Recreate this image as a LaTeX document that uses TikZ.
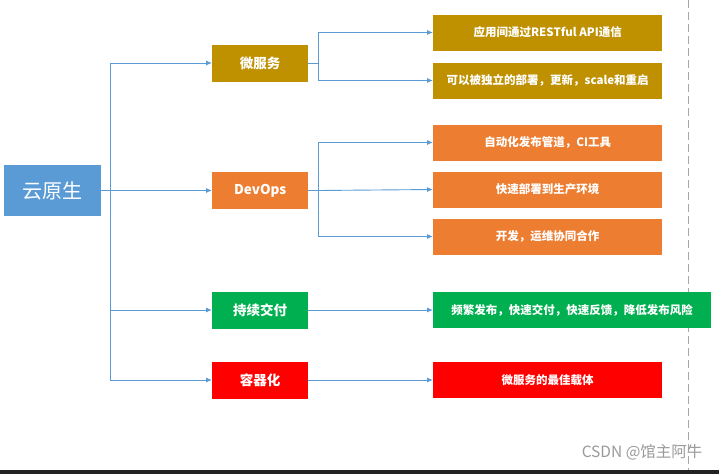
\documentclass[tikz,border=0pt]{standalone}
\usepackage{fontspec}
\setmainfont{Noto Sans CJK SC}
\usetikzlibrary{arrows.meta,positioning}
\definecolor{rootblue}{RGB}{91,155,213}
\definecolor{msgold}{RGB}{191,144,0}
\definecolor{devorange}{RGB}{237,125,49}
\definecolor{cdgreen}{RGB}{0,176,80}
\definecolor{ctred}{RGB}{255,0,0}
\definecolor{linkblue}{RGB}{91,155,213}
\definecolor{barblack}{RGB}{34,34,34}

\begin{document}
\begin{tikzpicture}[x=1pt, y=1pt,
  box/.style={rectangle, inner sep=0pt, text=white, align=center, anchor=west},
  rootbox/.style={box, fill=rootblue, minimum width=97pt, minimum height=51pt,
                  font=\fontsize{20}{24}\selectfont},
  topicbox/.style={box, minimum width=96pt, minimum height=37pt,
                   font=\fontsize{13.5}{16}\selectfont\bfseries},
  itembox/.style={box, minimum width=229pt, minimum height=36pt,
                  font=\fontsize{11.5}{14}\selectfont\bfseries},
  link/.style={draw=linkblue, line width=0.9pt},
  arr/.style={link, -{Latex[length=6pt, width=5pt]}}
]
\useasboundingbox (0,0) rectangle (719,-474);

%% ---- Page marks ----
\draw[black!35, dash pattern=on 8pt off 4pt] (688,0) -- (688,-470);

%% ---- Root (left) ----
\node[rootbox] (root) at (4,-190.5) {云原生};
\coordinate (trunk) at (110,-190.5);

%% ---- Topics (middle) ----
\node[topicbox, fill=msgold]     (micro)  at (212,-63)    {微服务};
\node[topicbox, fill=devorange]  (devops) at (212,-190.5) {DevOps};
\node[topicbox, fill=cdgreen]    (cd)     at (212,-310)   {持续交付};
\node[topicbox, fill=ctred]      (ctr)    at (212,-380)   {容器化};

%% ---- Items (right) ----
\node[itembox, fill=msgold]    (rest)     at (433,-32.5)  {应用间通过RESTful API通信};
\node[itembox, fill=msgold]    (indep)    at (433,-80.5)  {可以被独立的部署，更新，scale和重启};
\node[itembox, fill=devorange] (pipeline) at (433,-142.5) {自动化发布管道，CI工具};
\node[itembox, fill=devorange] (fastdep)  at (433,-189.5) {快速部署到生产环境};
\node[itembox, fill=devorange] (collab)   at (433,-236.5) {开发，运维协同合作};
\node[itembox, fill=cdgreen, minimum width=278pt] (release) at (433,-310)
  {频繁发布，快速交付，快速反馈，降低发布风险};
\node[itembox, fill=ctred]     (carrier)  at (433,-380)   {微服务的最佳载体};

\coordinate (microfork)  at (318,-63);
\coordinate (devopsfork) at (318,-190.5);

%% ---- Arrows ----
\draw[link] (root.east) -- (trunk);
\draw[arr] (trunk) |- (micro.west);
\draw[arr] (trunk) -- (devops.west);
\draw[arr] (trunk) |- (cd.west);
\draw[arr] (trunk) |- (ctr.west);
% microservice branch
\draw[link] (micro.east) -- (microfork);
\draw[arr] (microfork) |- (rest.west);
\draw[arr] (microfork) |- (indep.west);
% devops branch
\draw[link] (devops.east) -- (devopsfork);
\draw[arr] (devopsfork) |- (pipeline.west);
\draw[arr] (devopsfork) -- (fastdep.west);
\draw[arr] (devopsfork) |- (collab.west);
% single items
\draw[arr] (cd.east)  -- (release.west);
\draw[arr] (ctr.east) -- (carrier.west);

%% ---- Watermark and bottom bar ----
\node[anchor=east, text=black!40, font=\fontsize{15.5}{18}\selectfont] (mark) at (706,-452)
  {CSDN @馆主阿牛};
\fill[barblack] (0,-470) rectangle (719,-474);
\end{tikzpicture}
\end{document}
